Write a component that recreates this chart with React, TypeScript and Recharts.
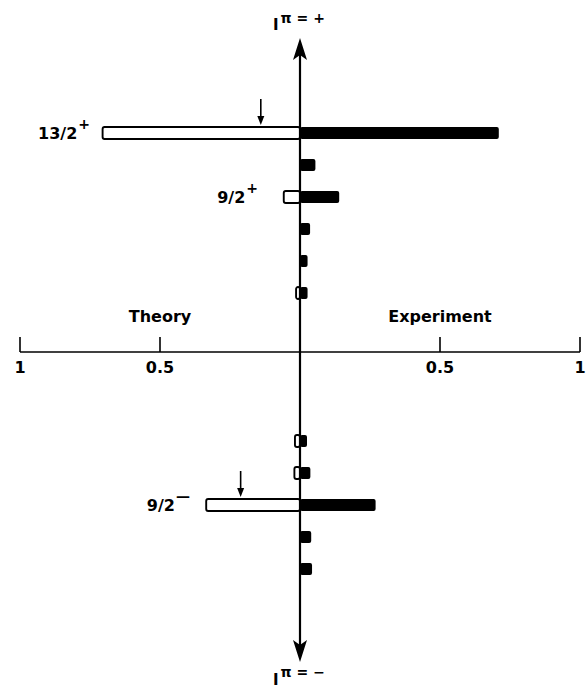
import React from 'react';
import { ComposedChart, Bar, XAxis, YAxis, ReferenceLine, ReferenceDot } from 'recharts';

// Row index of each level (upper group I^pi=+, lower group I^pi=-)
const rowIndex = [1, 2, 3, 4, 5, 6, 10.625, 11.625, 12.625, 13.625, 14.625];
// Relative strengths (fractions of 1)
const theory = [0.705, null, 0.058, null, null, 0.014, 0.018, 0.02, 0.335, null, null];
const experiment = [0.71, 0.055, 0.14, 0.036, 0.027, 0.027, 0.025, 0.037, 0.27, 0.04, 0.043];

// Spin labels
const spinRows = [1, 3, 12.625];
const spinText = ['13/2', '9/2', '9/2'];
const spinParity = ['+', '+', '\u2014'];
const spinLabelX = [-0.75, -0.15, -0.393];

// Small down arrows above theory bars
const arrowRows = [1, 12.625];
const arrowX = [-0.14, -0.212];

// Horizontal strength axis
const horizontalAxisRow = 7.84375;
const axisTicks = [-1, -0.5, 0.5, 1];
const axisTickLabels = ['1', '0.5', '0.5', '1'];
const sideLabels = ['Theory', 'Experiment'];
const sideLabelX = [-0.5, 0.5];

// Vertical axis (parity)
const verticalAxisEnds = [-1.97, 17.53];
const parityLabels = ['+', '\u2212'];

const data = rowIndex.map((pos, i) => ({
  pos,
  theory: theory[i] == null ? null : -(theory[i] as number),
  experiment: experiment[i],
}));

const FONT = '"DejaVu Sans", "Liberation Sans", sans-serif';

const yDomain: [number, number] = [1 - 133 / 32, 1 - 133 / 32 + 690 / 32];

export default function App() {
  return (
    <div style={{ position: 'absolute', left: 0, top: 0, width: 587, height: 690, background: '#fff' }}>
      <ComposedChart
        width={587}
        height={690}
        data={data}
        layout="vertical"
        stackOffset="sign"
        margin={{ top: 0, right: 7, bottom: 0, left: 20 }}
      >
        <XAxis type="number" domain={[-1, 1]} hide allowDataOverflow />
        <YAxis type="number" dataKey="pos" domain={yDomain} hide allowDataOverflow />
        <Bar
          dataKey="theory"
          stackId="s"
          fill="#fff"
          stroke="#000"
          strokeWidth={1.9}
          barSize={12}
          radius={2}
          isAnimationActive={false}
        />
        <Bar
          dataKey="experiment"
          stackId="s"
          fill="#000"
          barSize={12}
          radius={2}
          isAnimationActive={false}
        />
        <ReferenceLine y={horizontalAxisRow} stroke="#000" strokeWidth={1.6} />
        <ReferenceLine
          segment={[
            { x: 0, y: verticalAxisEnds[0] + 0.4 },
            { x: 0, y: verticalAxisEnds[1] - 0.4 },
          ]}
          stroke="#000"
          strokeWidth={2.2}
        />
        {/* arrow heads and parity labels */}
        <ReferenceDot
          x={0}
          y={verticalAxisEnds[0]}
          r={0}
          shape={(p: any) => (
            <g>
              <path
                d={`M${p.cx},${p.cy} L${p.cx + 7},${p.cy + 22} L${p.cx},${p.cy + 17} L${p.cx - 7},${p.cy + 22} Z`}
                fill="#000"
              />
              <text x={p.cx - 27} y={p.cy - 8} fontFamily={FONT} fontWeight="bold" fontSize={15} fill="#000">
                <tspan>I</tspan>
                <tspan dx={2} dy={-7} fontSize={14}>
                  {'\u03C0 = ' + parityLabels[0]}
                </tspan>
              </text>
            </g>
          )}
        />
        <ReferenceDot
          x={0}
          y={verticalAxisEnds[1]}
          r={0}
          shape={(p: any) => (
            <g>
              <path
                d={`M${p.cx},${p.cy} L${p.cx + 7},${p.cy - 22} L${p.cx},${p.cy - 17} L${p.cx - 7},${p.cy - 22} Z`}
                fill="#000"
              />
              <text x={p.cx - 27} y={p.cy + 23} fontFamily={FONT} fontWeight="bold" fontSize={15} fill="#000">
                <tspan>I</tspan>
                <tspan dx={2} dy={-8} fontSize={14}>
                  {'\u03C0 = ' + parityLabels[1]}
                </tspan>
              </text>
            </g>
          )}
        />
        {/* ticks on horizontal axis */}
        {axisTicks.map((t, i) => (
          <ReferenceDot
            key={'tick' + i}
            x={t}
            y={horizontalAxisRow}
            r={0}
            shape={(p: any) => (
              <g>
                <line x1={p.cx} y1={p.cy} x2={p.cx} y2={p.cy - 15} stroke="#000" strokeWidth={1.6} />
                <text
                  x={p.cx}
                  y={p.cy + 21}
                  textAnchor="middle"
                  fontFamily={FONT}
                  fontWeight="bold"
                  fontSize={16}
                  fill="#000"
                >
                  {axisTickLabels[i]}
                </text>
              </g>
            )}
          />
        ))}
        {sideLabels.map((s, i) => (
          <ReferenceDot
            key={'side' + i}
            x={sideLabelX[i]}
            y={horizontalAxisRow}
            r={0}
            shape={(p: any) => (
              <text
                x={p.cx}
                y={p.cy - 30}
                textAnchor="middle"
                fontFamily={FONT}
                fontWeight="bold"
                fontSize={16}
                fill="#000"
              >
                {s}
              </text>
            )}
          />
        ))}
        {spinRows.map((r, i) => (
          <ReferenceDot
            key={'spin' + i}
            x={spinLabelX[i]}
            y={r}
            r={0}
            shape={(p: any) => (
              <text
                x={p.cx}
                y={p.cy + 6}
                textAnchor="end"
                fontFamily={FONT}
                fontWeight="bold"
                fontSize={16}
                fill="#000"
              >
                <tspan>{spinText[i]}</tspan>
                <tspan dx={1} dy={-10} fontSize={14}>
                  {spinParity[i]}
                </tspan>
              </text>
            )}
          />
        ))}
        {arrowRows.map((r, i) => (
          <ReferenceDot
            key={'arrow' + i}
            x={arrowX[i]}
            y={r}
            r={0}
            shape={(p: any) => {
              const tip = p.cy - 8;
              return (
                <g>
                  <line x1={p.cx} y1={tip - 26} x2={p.cx} y2={tip - 6} stroke="#000" strokeWidth={1.6} />
                  <path
                    d={`M${p.cx},${tip} L${p.cx + 3.5},${tip - 9} L${p.cx - 3.5},${tip - 9} Z`}
                    fill="#000"
                  />
                </g>
              );
            }}
          />
        ))}
      </ComposedChart>
    </div>
  );
}
